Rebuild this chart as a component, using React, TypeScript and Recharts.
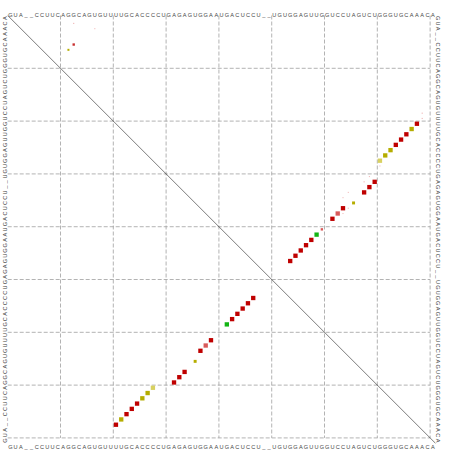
import React from 'react';
import { ScatterChart, Scatter, XAxis, YAxis, ReferenceLine } from 'recharts';

// Aligned consensus sequence (81 columns, gaps as "_")
const SEQUENCE = 'GUA__CCUUCAGGCAGUGUUUUGCACCCCUGAGAGUGGAAUGACUCCU__UGUGGAGUUGGUCCUAGUCUGGGUGCAAACA';
const N = SEQUENCE.length;
const GRID_STEPS = [10, 20, 30, 40, 50, 60, 70, 80];

// Consensus structure base pairs (0-based columns i < j) and their colour class
const PAIR_I = [20, 21, 22, 23, 24, 25, 26, 27, 31, 32, 33, 35, 36, 37, 38, 41, 42, 43, 44, 45, 46];
const PAIR_J = [77, 76, 75, 74, 73, 72, 71, 70, 69, 68, 67, 65, 63, 62, 61, 58, 57, 56, 55, 54, 53];
const PAIR_TYPE = ['r', 'o', 'r', 'r', 'r', 'o', 'o', 'lo', 'r', 'r', 'r', 'o', 'r', 'lr', 'r', 'g', 'r', 'r', 'r', 'r', 'r'];
const PAIR_SIZE = [0.82, 0.82, 0.82, 0.82, 0.82, 0.82, 0.82, 0.82, 0.82, 0.82, 0.82, 0.56, 0.82, 0.82, 0.82, 0.82, 0.82, 0.82, 0.82, 0.82, 0.82];

// Weak alternative pairs (probability triangle only)
const ALT_I = [1, 2, 5, 6, 18, 19, 28, 30, 31, 33, 34, 36, 37, 40];
const ALT_J = [12, 16, 12, 11, 78, 78, 70, 68, 67, 64, 63, 64, 63, 59];
const ALT_TYPE = ['fr', 'fr', 'mr', 'o', 'fr', 'fr', 'fr', 'fr', 'fr', 'fr', 'fr', 'fr', 'fr', 'lr'];
const ALT_SIZE = [0.22, 0.2, 0.45, 0.38, 0.22, 0.22, 0.2, 0.2, 0.22, 0.2, 0.2, 0.2, 0.2, 0.45];

const COLORS: Record<string, string> = {
  r: '#bf0000',
  o: '#b5ad00',
  lo: '#d8d160',
  g: '#14b414',
  lr: '#d85a5a',
  mr: '#c83030',
  fr: '#f0b8b8',
};

const W = 452;
const H = 451;
const AXIS = 2;
const MARGIN = { top: 13.5, right: 14.6, bottom: 5.8, left: 5.7 };
const PLOT_W = W - MARGIN.left - MARGIN.right - 2 * AXIS;
const CELL = PLOT_W / N;

const lower = PAIR_I.map((i, k) => ({ x: i + 0.5, y: PAIR_J[k] + 0.5, t: PAIR_TYPE[k], s: PAIR_SIZE[k] }));
const upper = PAIR_I.map((i, k) => ({ x: PAIR_J[k] + 0.5, y: i + 0.5, t: PAIR_TYPE[k], s: PAIR_SIZE[k] }));
const alt = ALT_I.map((i, k) => ({ x: ALT_J[k] + 0.5, y: i + 0.5, t: ALT_TYPE[k], s: ALT_SIZE[k] }));
const points = [...alt, ...lower, ...upper];

const TICKS = Array.from(SEQUENCE).map((_, k) => k + 0.5);
const label = (v: number) => SEQUENCE[Math.floor(v)] || '';

const FONT = { fontFamily: '"Liberation Sans", Arial, Helvetica, sans-serif', fontSize: 5.6, fill: '#444' };

const TopTick = (p: any) => (
  <text x={p.x} y={p.y + 1} textAnchor="middle" {...FONT}>{label(p.payload.value)}</text>
);
const BottomTick = (p: any) => (
  <text x={p.x} y={p.y + 6.2} textAnchor="middle" {...FONT}>{label(p.payload.value)}</text>
);
const LeftTick = (p: any) => (
  <text x={p.x - 1} y={p.y} textAnchor="middle" transform={`rotate(-90, ${p.x - 1}, ${p.y})`} {...FONT}>{label(p.payload.value)}</text>
);
const RightTick = (p: any) => (
  <text x={p.x + 0.2} y={p.y} textAnchor="middle" transform={`rotate(90, ${p.x + 0.2}, ${p.y})`} {...FONT}>{label(p.payload.value)}</text>
);

const Square = (p: any) => {
  const side = p.payload.s * CELL;
  return <rect x={p.cx - side / 2} y={p.cy - side / 2} width={side} height={side} fill={COLORS[p.payload.t]} />;
};

const GRID_STYLE = { stroke: '#a0a0a0', strokeWidth: 0.8, strokeDasharray: '4 2' };

export default function App() {
  return (
    <div style={{ position: 'absolute', left: 0, top: 0, background: '#fff' }}>
      <ScatterChart width={W} height={H} margin={MARGIN}>
        <XAxis xAxisId="b" type="number" dataKey="x" domain={[0, N]} orientation="bottom" ticks={TICKS} interval={0}
          tick={<BottomTick />} tickLine={false} axisLine={false} tickSize={0} tickMargin={0} height={AXIS} allowDataOverflow />
        <XAxis xAxisId="t" type="number" dataKey="x" domain={[0, N]} orientation="top" ticks={TICKS} interval={0}
          tick={<TopTick />} tickLine={false} axisLine={false} tickSize={0} tickMargin={0} height={AXIS} allowDataOverflow />
        <YAxis yAxisId="r" type="number" dataKey="y" domain={[0, N]} reversed orientation="right" ticks={TICKS} interval={0}
          tick={<RightTick />} tickLine={false} axisLine={false} tickSize={0} tickMargin={0} width={AXIS} allowDataOverflow />
        <YAxis yAxisId="l" type="number" dataKey="y" domain={[0, N]} orientation="left" ticks={TICKS} interval={0}
          tick={<LeftTick />} tickLine={false} axisLine={false} tickSize={0} tickMargin={0} width={AXIS} allowDataOverflow />
        {GRID_STEPS.map((k) => (
          <ReferenceLine key={'v' + k} xAxisId="b" yAxisId="r" segment={[{ x: k, y: 0 }, { x: k, y: 80 }]} {...GRID_STYLE} />
        ))}
        {GRID_STEPS.map((k) => (
          <ReferenceLine key={'h' + k} xAxisId="b" yAxisId="r" segment={[{ x: 0, y: k }, { x: 80, y: k }]} {...GRID_STYLE} />
        ))}
        <ReferenceLine xAxisId="b" yAxisId="r" segment={[{ x: 0, y: 0 }, { x: N, y: N }]} stroke="#222" strokeWidth={0.6} />
        <Scatter xAxisId="b" yAxisId="r" data={points} shape={<Square />} isAnimationActive={false} />
      </ScatterChart>
    </div>
  );
}
